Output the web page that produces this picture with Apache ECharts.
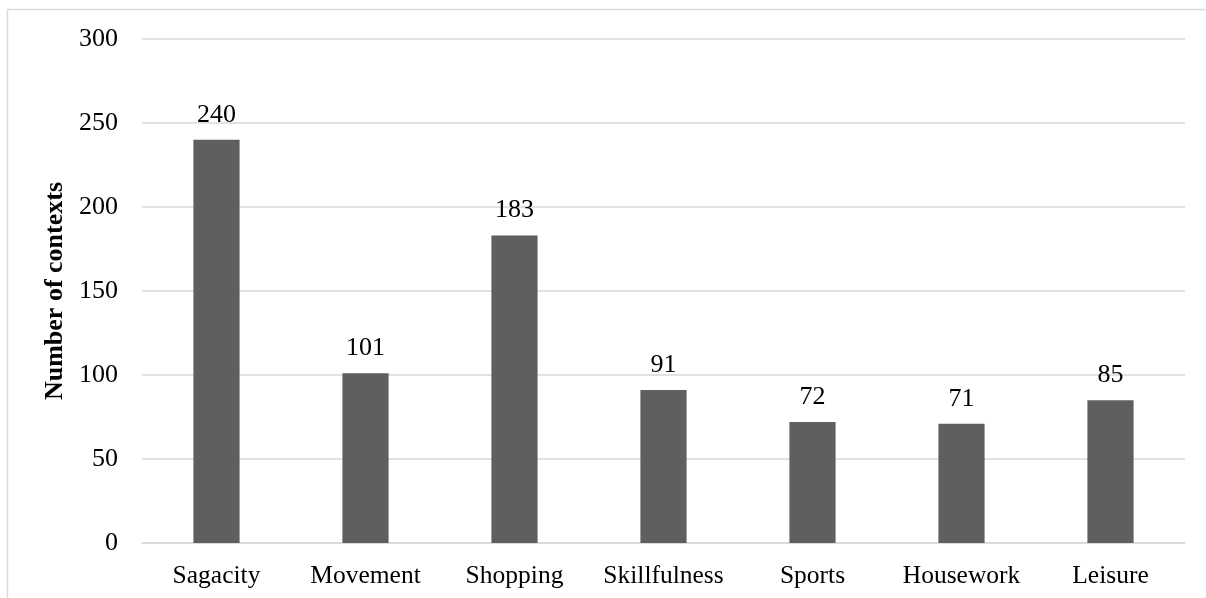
<!DOCTYPE html>
<html>
<head>
<meta charset="utf-8">
<script src="https://cdn.jsdelivr.net/npm/echarts@6/dist/echarts.min.js"></script>
<style>
  html, body { margin: 0; padding: 0; background: #fff; }
  #chart { width: 1206px; height: 598px; }
</style>
</head>
<body>
<div id="chart"></div>
<script>
// Context categories and counts
const categories = ['Sagacity', 'Movement', 'Shopping', 'Skillfulness', 'Sports', 'Housework', 'Leisure'];
const counts = [240, 101, 183, 91, 72, 71, 85];
const yAxisTitle = 'Number of contexts';

const FONT = '"Liberation Serif", "Times New Roman", serif';

const chart = echarts.init(document.getElementById('chart'), null, { renderer: 'canvas' });

chart.setOption({
  backgroundColor: '#ffffff',
  animation: false,
  textStyle: { fontFamily: FONT },
  // Outer frame (open to the right and bottom edges of the canvas)
  graphic: [{
    type: 'rect',
    shape: { x: 7.5, y: 9.5, width: 1400, height: 800 },
    style: { fill: 'none', stroke: '#d9d9d9', lineWidth: 1.5 },
    silent: true
  }],
  grid: { left: 142, right: 21, top: 39, bottom: 55 },
  xAxis: {
    type: 'category',
    data: categories,
    axisLine: { show: true, lineStyle: { color: '#d9d9d9', width: 1.5 } },
    axisTick: { show: false },
    axisLabel: { color: '#000', fontSize: 25.5, fontFamily: FONT, margin: 20, interval: 0 }
  },
  yAxis: {
    type: 'value',
    min: 0,
    max: 300,
    interval: 50,
    name: yAxisTitle,
    nameLocation: 'middle',
    nameGap: 68,
    nameTextStyle: { color: '#000', fontSize: 26, fontWeight: 'bold', fontFamily: FONT },
    axisLine: { show: false },
    axisTick: { show: false },
    axisLabel: { color: '#000', fontSize: 26, fontFamily: FONT, margin: 24 },
    splitLine: { lineStyle: { color: '#d9d9d9', width: 1.5 } }
  },
  series: [{
    type: 'bar',
    data: counts,
    barWidth: '31%',
    itemStyle: { color: '#5f5f5f' },
    label: {
      show: true,
      position: 'top',
      distance: 12,
      color: '#000',
      fontSize: 26,
      fontFamily: FONT
    }
  }]
});
</script>
</body>
</html>
